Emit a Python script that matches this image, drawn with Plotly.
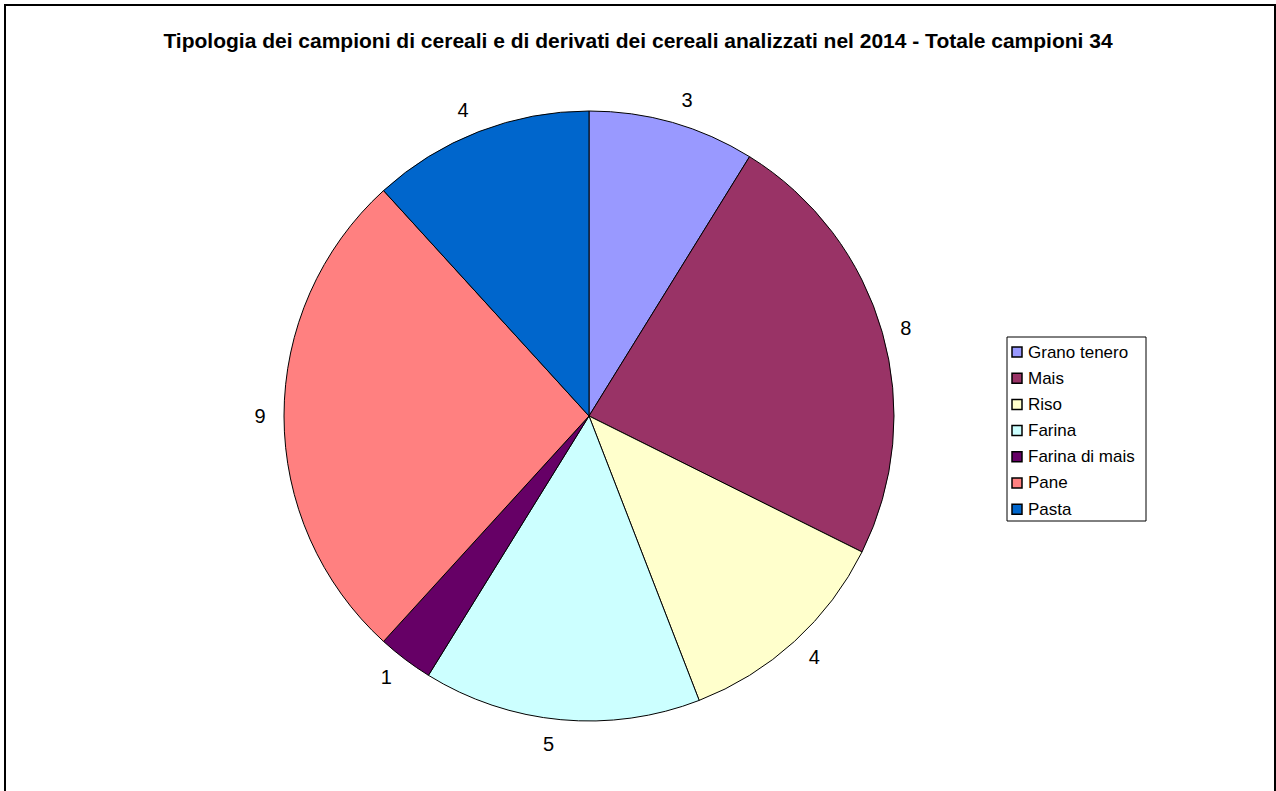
import plotly.graph_objects as go

categories = ["Grano tenero", "Mais", "Riso", "Farina", "Farina di mais", "Pane", "Pasta"]
values = [3, 8, 4, 5, 1, 9, 4]
colors = ["#9999FF", "#993366", "#FFFFCC", "#CCFFFF", "#660066", "#FF8080", "#0066CC"]
title = "Tipologia dei campioni di cereali e di derivati dei cereali analizzati nel 2014 - Totale campioni 34"

W, H = 1276, 791
cx, cy, r = 589, 416, 305
r_lab = 318  # radius of the (invisible) pie carrying the outside value labels


def dom(rad):
    return dict(x=[(cx - rad) / W, (cx + rad) / W], y=[(H - cy - rad) / H, (H - cy + rad) / H])


fig = go.Figure()
# Visible pie
fig.add_trace(go.Pie(
    labels=categories, values=values,
    marker=dict(colors=colors, line=dict(color="black", width=1)),
    sort=False, direction="clockwise", rotation=0,
    textinfo="none", domain=dom(r), showlegend=False,
    hoverinfo="label+value",
))
# Transparent, slightly larger pie that only carries the outside labels
fig.add_trace(go.Pie(
    labels=categories, values=values,
    marker=dict(colors=["rgba(0,0,0,0)"] * len(values), line=dict(width=0)),
    sort=False, direction="clockwise", rotation=0,
    textinfo="value", textposition="outside",
    outsidetextfont=dict(family="Liberation Sans, Arial", size=20, color="black"),
    domain=dom(r_lab), showlegend=False, hoverinfo="skip",
))

shapes = [dict(type="rect", xref="paper", yref="paper", x0=5 / W, x1=1275 / W, y0=-0.01, y1=1 - 5 / H,
               line=dict(color="black", width=2), fillcolor="rgba(0,0,0,0)", layer="below")]
annotations = []

# Legend (box, swatches, labels)
lx0, lx1, ly0, ly1 = 1007, 1146, 337, 521
shapes.append(dict(type="rect", xref="paper", yref="paper",
                   x0=lx0 / W, x1=lx1 / W, y0=1 - ly1 / H, y1=1 - ly0 / H,
                   line=dict(color="black", width=1), fillcolor="white"))
for i, (cat, col) in enumerate(zip(categories, colors)):
    yc = 352 + 26.2 * i
    shapes.append(dict(type="rect", xref="paper", yref="paper",
                       x0=1012 / W, x1=1022 / W, y0=1 - (yc + 5) / H, y1=1 - (yc - 5) / H,
                       line=dict(color="black", width=1.5), fillcolor=col))
    annotations.append(dict(text=cat, xref="paper", yref="paper", x=1026 / W, y=1 - yc / H,
                            xanchor="left", yanchor="middle", showarrow=False,
                            font=dict(size=17, family="Liberation Sans, Arial", color="black")))

fig.update_layout(
    width=W, height=H,
    margin=dict(l=0, r=0, t=0, b=0),
    paper_bgcolor="white",
    font=dict(family="Liberation Sans, Arial", color="black"),
    title=dict(text="<b>" + title + "</b>", x=0.5, xanchor="center", y=1 - 41 / H, yanchor="middle",
               font=dict(size=21, family="Liberation Sans, Arial", color="black")),
    showlegend=False,
    shapes=shapes,
    annotations=annotations,
)

fig.write_html("out.html")
